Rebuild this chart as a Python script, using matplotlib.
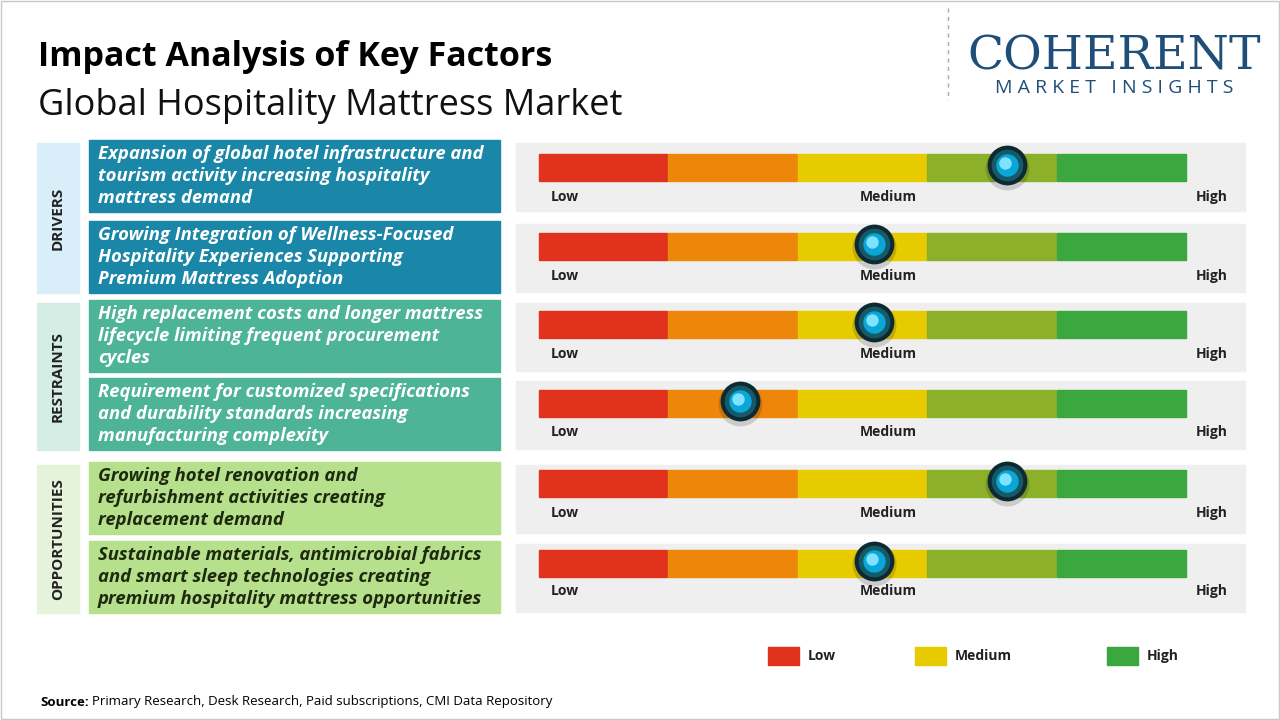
import matplotlib
matplotlib.use("Agg")
import matplotlib.pyplot as plt
from matplotlib.patches import Rectangle

plt.rcParams['font.family'] = ['Open Sans', 'DejaVu Sans']

factors = [
    "Expansion of global hotel infrastructure and\ntourism activity increasing hospitality\nmattress demand",
    "Growing Integration of Wellness-Focused\nHospitality Experiences Supporting\nPremium Mattress Adoption",
    "High replacement costs and longer mattress\nlifecycle limiting frequent procurement\ncycles",
    "Requirement for customized specifications\nand durability standards increasing\nmanufacturing complexity",
    "Growing hotel renovation and\nrefurbishment activities creating\nreplacement demand",
    "Sustainable materials, antimicrobial fabrics\nand smart sleep technologies creating\npremium hospitality mattress opportunities",
]
groups = ["DRIVERS", "DRIVERS", "RESTRAINTS", "RESTRAINTS", "OPPORTUNITIES", "OPPORTUNITIES"]
impact = [3.62, 2.59, 2.59, 1.56, 3.62, 2.59]   # position on 0-5 scale
scale_labels = ["Low", "Medium", "High"]
legend_labels = ["Low", "Medium", "High"]

seg_colors = ["#e0321c", "#ee860a", "#e6cb00", "#8db02a", "#3aa83f"]
box_colors = {"DRIVERS": "#1b87a8", "RESTRAINTS": "#4db497", "OPPORTUNITIES": "#b6e08c"}
band_colors = {"DRIVERS": "#d8eef8", "RESTRAINTS": "#d4eee6", "OPPORTUNITIES": "#e4f3da"}
text_colors = {"DRIVERS": "white", "RESTRAINTS": "white", "OPPORTUNITIES": "#1e2a10"}

fig = plt.figure(figsize=(12.8, 7.2), dpi=100)
ax = fig.add_axes([0, 0, 1, 1])
ax.set_xlim(0, 1280); ax.set_ylim(720, 0); ax.axis("off")
ax.add_patch(Rectangle((1, 1), 1278, 718, fill=False, ec="#c8c8c8", lw=1))

ax.text(38, 57, "Impact Analysis of Key Factors", fontsize=24.5, fontweight="bold", va="center")
ax.text(38, 106, "Global Hospitality Mattress Market", fontsize=26, va="center", color="#111")
ax.plot([948, 948], [8, 100], ls=(0, (3, 3)), color="#aaa", lw=1)
ax.text(1114, 57, "COHERENT", fontsize=34, family="DejaVu Serif", color="#1f4e79", ha="center", va="center")
ax.text(1114, 88, "M A R K E T   I N S I G H T S", fontsize=14, color="#1f4e79", ha="center", va="center")

box_tops = [140, 221, 300, 378, 462, 541]
bar_tops = [154, 233, 311, 390, 470, 550]
lab_y = [197, 276, 354, 432, 513, 591]
bh = 72
for g in ["DRIVERS", "RESTRAINTS", "OPPORTUNITIES"]:
    idx = [i for i, x in enumerate(groups) if x == g]
    y0 = box_tops[idx[0]] + 3; y1 = box_tops[idx[-1]] + bh
    ax.add_patch(Rectangle((37, y0), 42, y1 - y0, color=band_colors[g]))
    ax.text(58, (y0 + y1) / 2, g, rotation=90, ha="center", va="center", fontsize=11, fontweight="bold", color="#222")

x0, seg_w = 538, 129.6
for i, (f, g, v) in enumerate(zip(factors, groups, impact)):
    t = box_tops[i]
    ax.add_patch(Rectangle((89, t), 411, bh, color=box_colors[g]))
    ax.text(98, t + bh / 2, f, fontsize=13.3, fontweight="bold", style="italic", color=text_colors[g],
            va="center", ha="left", linespacing=1.28)
    ax.add_patch(Rectangle((516, t + 3), 729, 68, color="#efefef"))
    b = bar_tops[i]
    for k, c in enumerate(seg_colors):
        ax.add_patch(Rectangle((x0 + k * seg_w + 0.5, b), seg_w - 1, 27, color=c))
    for lbl, lx in zip(scale_labels, [551, 888, 1212]):
        ax.text(lx, lab_y[i], lbl, ha="left" if lbl == "Low" else "center", va="center",
                fontsize=10, fontweight="bold", color="#222")
    kx = x0 + v * seg_w; ky = b + 11
    ax.scatter([kx], [ky + 3], s=1000, color="#000", alpha=0.15, zorder=4, lw=0)
    ax.scatter([kx], [ky], s=820, color="#0d2a33", zorder=5, lw=0)
    ax.scatter([kx], [ky], s=520, color="#165a68", zorder=6, lw=0)
    ax.scatter([kx], [ky], s=260, color="#0aa6d8", zorder=7, lw=0)
    ax.scatter([kx - 2], [ky - 2], s=80, color="#7fe3ff", zorder=8, lw=0)

for lbl, lx, c in zip(legend_labels, [768, 915, 1107], [seg_colors[0], seg_colors[2], seg_colors[4]]):
    ax.add_patch(Rectangle((lx, 647), 31, 18, color=c))
    ax.text(lx + 40, 656, lbl, va="center", fontsize=10, fontweight="bold", color="#222")

ax.text(40, 702, "Source:", fontsize=9.5, fontweight="bold", va="center")
ax.text(92, 702, "Primary Research, Desk Research, Paid subscriptions, CMI Data Repository", fontsize=9.5, va="center")
fig.savefig("out.png", dpi=100)
